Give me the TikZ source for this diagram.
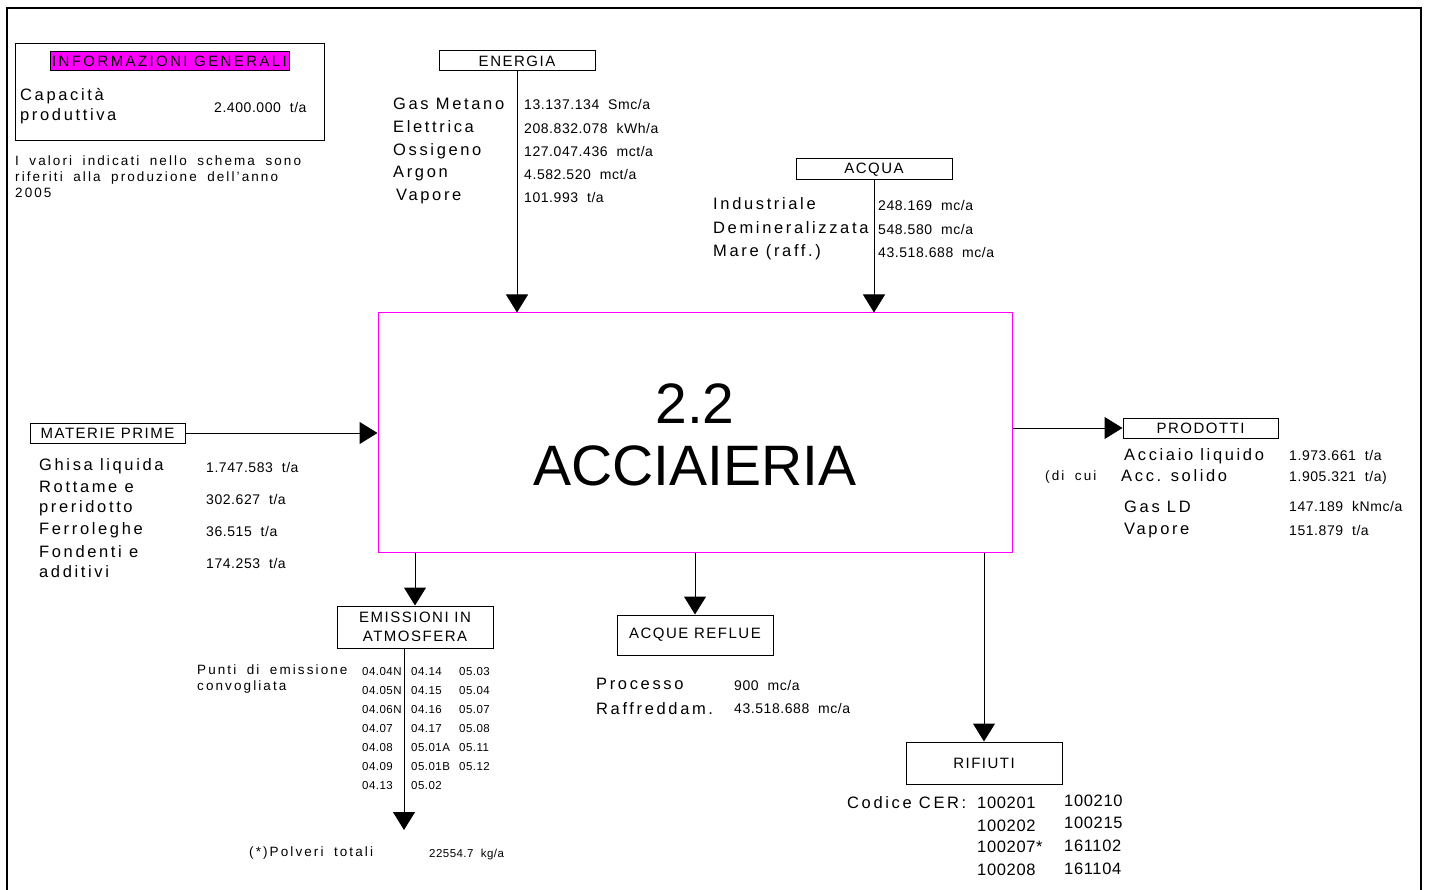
\documentclass[tikz,border=0pt]{standalone}
\usepackage{fontspec}
\setmainfont{Liberation Sans}
\newfontfamily\lblf[LetterSpace=16]{Liberation Sans}
\newfontfamily\smlf[LetterSpace=15.5,WordSpace=1.8]{Liberation Sans}
\newfontfamily\capf[LetterSpace=10]{Liberation Sans}
\newfontfamily\numf[LetterSpace=4,WordSpace=2]{Liberation Sans}
\usetikzlibrary{arrows.meta}
\definecolor{mag}{RGB}{255,0,255}
\tikzset{
  lbl/.style={font=\lblf\fontsize{16.5}{18}\selectfont, inner sep=0pt, anchor=west, text height=12pt, text depth=0pt},
  sml/.style={font=\smlf\fontsize{13.5}{14}\selectfont, inner sep=0pt, anchor=west, text height=9.5pt, text depth=0pt},
  num/.style={font=\numf\fontsize{14}{15}\selectfont, inner sep=0pt, anchor=west, text height=10pt, text depth=0pt},
  code/.style={font=\numf\fontsize{11.5}{12}\selectfont, inner sep=0pt, anchor=west, text height=8pt, text depth=0pt},
  bignum/.style={font=\numf\fontsize{16.5}{18}\selectfont, inner sep=0pt, anchor=west, text height=12pt, text depth=0pt},
  tag/.style={draw, line width=1pt, font=\capf\fontsize{15}{19}\selectfont, inner sep=0pt, align=center},
  flow/.style={line width=1pt, -{Triangle[length=18pt,width=22pt]}},
  big/.style={font=\fontsize{57}{60}\selectfont, inner sep=0pt, text height=41pt, text depth=0pt},
}
\begin{document}
\begin{tikzpicture}[x=1pt,y=-1pt]
\useasboundingbox (0,0) rectangle (1429,890);
% frame
\draw[line width=1.5pt] (7,890) -- (7,8) -- (1421,8) -- (1421,890);

% general information
\node[draw, line width=1pt, minimum width=309pt, minimum height=97pt, inner sep=0pt] (info) at (169.5,92.5) {};
\node[tag, fill=mag, minimum width=239pt, minimum height=19pt, font=\lblf\fontsize{15}{17}\selectfont] (infot) at (169.5,61.5) {INFORMAZIONI GENERALI};
\node[lbl] (cap1) at (20,95) {Capacità};
\node[lbl] (cap2) at (20,115) {produttiva};
\node[num] (capv) at (214,108) {2.400.000 t/a};
\node[sml] (note1) at (15,161) {I valori indicati nello schema sono};
\node[sml] (note2) at (15,177) {riferiti alla produzione dell’anno};
\node[sml] (note3) at (15,193) {2005};

% main process
\node[draw=mag, line width=1pt, minimum width=634pt, minimum height=239pt, inner sep=0pt] (main) at (695,432.5) {};
\node[big] (t22) at (695,403) {2.2};
\node[big] (tacc) at (695,465) {ACCIAIERIA};

% energia
\node[tag, minimum width=156pt, minimum height=20pt] (energia) at (517,61) {ENERGIA};
\draw[flow] (energia.south) -- (energia.south |- main.north);
\node[lbl] (e1) at (393,104) {Gas Metano};
\node[lbl] (e2) at (393,127) {Elettrica};
\node[lbl] (e3) at (393,150) {Ossigeno};
\node[lbl] (e4) at (393,172) {Argon};
\node[lbl] (e5) at (396,195) {Vapore};
\node[num] (ev1) at (524,105) {13.137.134 Smc/a};
\node[num] (ev2) at (524,129) {208.832.078 kWh/a};
\node[num] (ev3) at (524,152) {127.047.436 mct/a};
\node[num] (ev4) at (524,175) {4.582.520 mct/a};
\node[num] (ev5) at (524,198) {101.993 t/a};

% acqua
\node[tag, minimum width=156pt, minimum height=21pt] (acqua) at (874,169.5) {ACQUA};
\draw[flow] (acqua.south) -- (acqua.south |- main.north);
\node[lbl] (a1) at (713,204) {Industriale};
\node[lbl] (a2) at (713,228) {Demineralizzata};
\node[lbl] (a3) at (713,251) {Mare (raff.)};
\node[num] (av1) at (878,206) {248.169 mc/a};
\node[num] (av2) at (878,230) {548.580 mc/a};
\node[num] (av3) at (878,253) {43.518.688 mc/a};

% materie prime
\node[tag, minimum width=155pt, minimum height=20pt] (materie) at (107.5,433) {MATERIE PRIME};
\draw[flow] (materie.east) -- (materie.east -| main.west);
\node[lbl] (m1) at (39,464) {Ghisa liquida};
\node[lbl] (m2) at (39,486) {Rottame e};
\node[lbl] (m3) at (39,506) {preridotto};
\node[lbl] (m4) at (39,528) {Ferroleghe};
\node[lbl] (m5) at (39,551) {Fondenti e};
\node[lbl] (m6) at (39,571) {additivi};
\node[num] (mv1) at (206,467) {1.747.583 t/a};
\node[num] (mv2) at (206,499) {302.627 t/a};
\node[num] (mv3) at (206,531) {36.515 t/a};
\node[num] (mv4) at (206,563) {174.253 t/a};

% prodotti
\node[tag, minimum width=155pt, minimum height=20pt] (prodotti) at (1200.5,428) {PRODOTTI};
\draw[flow] (main.east |- prodotti.west) -- (prodotti.west);
\node[lbl] (p1) at (1124,454) {Acciaio liquido};
\node[sml] (pdc) at (1045,476) {(di cui};
\node[lbl] (p2) at (1121,475) {Acc. solido};
\node[lbl] (p3) at (1124,506) {Gas LD};
\node[lbl] (p4) at (1124,528) {Vapore};
\node[num] (pv1) at (1289,455) {1.973.661 t/a};
\node[num] (pv2) at (1289,476) {1.905.321 t/a)};
\node[num] (pv3) at (1289,506) {147.189 kNmc/a};
\node[num] (pv4) at (1289,530) {151.879 t/a};

% emissioni
\node[tag, minimum width=156pt, minimum height=42pt] (emis) at (415,627) {EMISSIONI IN\\ATMOSFERA};
\draw[flow] (emis.north |- main.south) -- (emis.north);
\coordinate (emisend) at (404,830);
\draw[flow] (emis.south -| emisend) -- (emisend);
\node[sml] (pu1) at (197,670) {Punti di emissione};
\node[sml] (pu2) at (197,686) {convogliata};
\foreach \i/\a/\b/\c in {0/04.04N/04.14/05.03, 1/04.05N/04.15/05.04, 2/04.06N/04.16/05.07, 3/04.07/04.17/05.08, 4/04.08/05.01A/05.11, 5/04.09/05.01B/05.12, 6/04.13/05.02/{}} {
  \node[code] (ca\i) at (362,671+19*\i) {\a};
  \node[code] (cb\i) at (411,671+19*\i) {\b};
  \node[code] (cc\i) at (459,671+19*\i) {\c};
}
\node[sml] (polv) at (249,852) {(*)Polveri totali};
\node[code] (polvv) at (429,853) {22554.7 kg/a};

% acque reflue
\node[tag, minimum width=156pt, minimum height=40pt] (reflue) at (695,635) {ACQUE REFLUE};
\draw[flow] (reflue.north |- main.south) -- (reflue.north);
\node[lbl] (r1) at (596,683) {Processo};
\node[lbl] (r2) at (596,708) {Raffreddam.};
\node[num] (rv1) at (734,685) {900 mc/a};
\node[num] (rv2) at (734,708) {43.518.688 mc/a};

% rifiuti
\node[tag, minimum width=156pt, minimum height=42pt] (rifiuti) at (984,763) {RIFIUTI};
\draw[flow] (rifiuti.north |- main.south) -- (rifiuti.north);
\node[lbl] (cer) at (847,802) {Codice CER:};
\node[bignum] (w1) at (977,802) {100201};
\node[bignum] (w2) at (977,825) {100202};
\node[bignum] (w3) at (977,846) {100207*};
\node[bignum] (w4) at (977,869) {100208};
\node[bignum] (w5) at (1064,800) {100210};
\node[bignum] (w6) at (1064,822) {100215};
\node[bignum] (w7) at (1064,845) {161102};
\node[bignum] (w8) at (1064,868) {161104};
\end{tikzpicture}
\end{document}
